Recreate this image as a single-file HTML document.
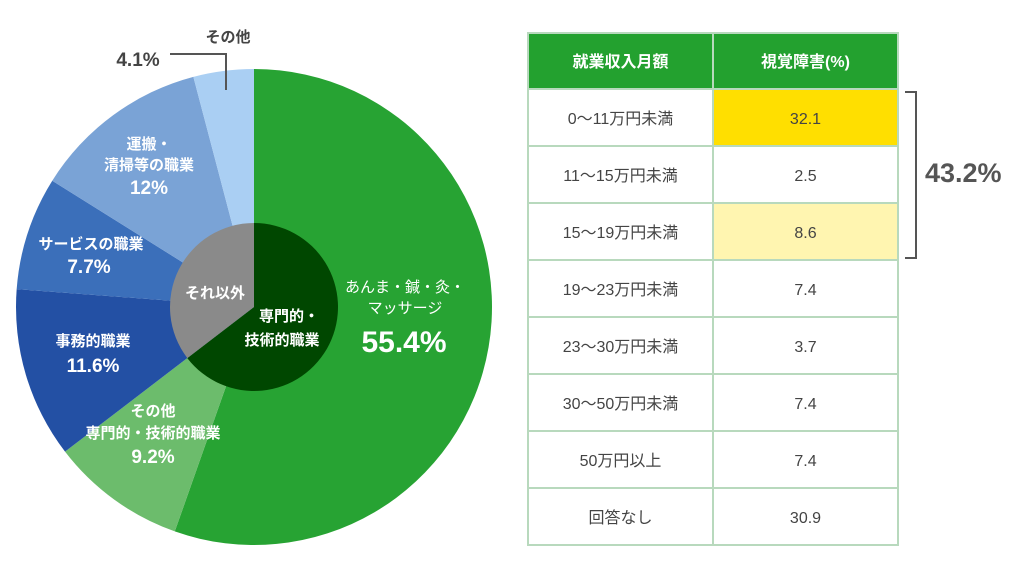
<!DOCTYPE html>
<html><head><meta charset="utf-8">
<style>
html,body{margin:0;padding:0;background:#fff;}
svg{display:block;font-family:"Liberation Sans","Noto Sans CJK JP",sans-serif;}
</style></head>
<body>
<svg id="c" width="1024" height="577" viewBox="0 0 1024 577">
<g id="pie"></g>
<g id="inner"></g>
<g id="labels" fill="#fff" font-weight="bold" text-anchor="middle">
<text x="228" y="42" fill="#444" font-size="15">その他</text>
<text x="138" y="66" fill="#444" font-size="19">4.1%</text>
<polyline points="170,54 226,54 226,90" fill="none" stroke="#555" stroke-width="2"/>
<text x="149" y="149" font-size="15">運搬・</text>
<text x="149" y="170" font-size="15">清掃等の職業</text>
<text x="149" y="194" font-size="19">12%</text>
<text x="91" y="249" font-size="15">サービスの職業</text>
<text x="89" y="273" font-size="19">7.7%</text>
<text x="93" y="346" font-size="15">事務的職業</text>
<text x="93" y="372" font-size="19">11.6%</text>
<text x="153" y="416" font-size="15">その他</text>
<text x="153" y="438" font-size="15">専門的・技術的職業</text>
<text x="153" y="463" font-size="19">9.2%</text>
<text x="405" y="292" font-size="15" font-weight="normal">あんま・鍼・灸・</text>
<text x="405" y="313" font-size="15" font-weight="normal">マッサージ</text>
<text x="404" y="352" font-size="30">55.4%</text>
<text x="215" y="298" font-size="15">それ以外</text>
<text x="289" y="321" font-size="15">専門的・</text>
<text x="282" y="345" font-size="15">技術的職業</text>
</g>
<g id="table"></g>
<polyline points="905,92 916,92 916,258 905,258" fill="none" stroke="#555" stroke-width="2"/>
<text x="925" y="182" font-size="27" font-weight="bold" fill="#555">43.2%</text>
</svg>
<script>
const sliceNames=["あんま・鍼・灸・マッサージ","その他専門的・技術的職業","事務的職業","サービスの職業","運搬・清掃等の職業","その他"];
const sliceValues=[55.4,9.2,11.6,7.7,12,4.1];
const innerNames=["専門的・技術的職業","それ以外"];
const innerValues=[64.6,35.4];
const rowLabels=["0～11万円未満","11～15万円未満","15～19万円未満","19～23万円未満","23～30万円未満","30～50万円未満","50万円以上","回答なし"];
const rowValues=[32.1,2.5,8.6,7.4,3.7,7.4,7.4,30.9];

const NS="http://www.w3.org/2000/svg";
const cx=254,cy=307;
function arcPath(r,a0,a1){
  const p=a=>[cx+r*Math.sin(a),cy-r*Math.cos(a)];
  const [x0,y0]=p(a0),[x1,y1]=p(a1);
  const large=(a1-a0)>Math.PI?1:0;
  return `M${cx},${cy}L${x0},${y0}A${r},${r} 0 ${large} 1 ${x1},${y1}Z`;
}
function drawPie(g,vals,names,r,colors,prefix){
  const tot=vals.reduce((a,b)=>a+b,0);let a=0;
  vals.forEach((v,i)=>{
    const a1=a+v/tot*2*Math.PI;
    const el=document.createElementNS(NS,"path");
    el.setAttribute("d",arcPath(r,a,a1));
    el.setAttribute("fill",colors[i]);
    
    
    const t=document.createElementNS(NS,"title");t.textContent=names[i]+" "+v+"%";el.appendChild(t);
    g.appendChild(el);a=a1;
  });
}
drawPie(document.getElementById("pie"),sliceValues,sliceNames,238,["#27a333","#6cbc6c","#2350a4","#3b6fba","#7aa3d6","#aacff3"],"outer");
drawPie(document.getElementById("inner"),innerValues,innerNames,84,["#004700","#8a8a8a"],"inner");
// move labels to front
document.getElementById("c").appendChild(document.getElementById("labels"));

const tg=document.getElementById("table");
const L=528,M=713,R=898,top0=33,hh=56,rh=57;
function rect(x,y,w,h,fill,name){
  const r=document.createElementNS(NS,"rect");
  r.setAttribute("x",x);r.setAttribute("y",y);r.setAttribute("width",w);r.setAttribute("height",h);
  r.setAttribute("fill",fill);r.setAttribute("stroke","#b8d9bd");r.setAttribute("stroke-width","2");
  
  
  tg.appendChild(r);
}
function text(x,y,s,size,fill,weight,name){
  const t=document.createElementNS(NS,"text");
  t.setAttribute("x",x);t.setAttribute("y",y);t.setAttribute("text-anchor","middle");
  t.setAttribute("font-size",size);t.setAttribute("fill",fill);
  if(weight)t.setAttribute("font-weight",weight);
  t.textContent=s;
  
  
  tg.appendChild(t);
}
rect(L,top0,M-L,hh,"#23a12f","header-cell-income");
rect(M,top0,R-M,hh,"#23a12f","header-cell-visual");
text((L+M)/2,top0+34,"就業収入月額",16,"#fff","bold","header-income");
text((M+R)/2,top0+34,"視覚障害(%)",16,"#fff","bold","header-visual");
rowLabels.forEach((lab,i)=>{
  const y=top0+hh+i*rh;
  const fill=i===0?"#ffdf00":(i===2?"#fff5b0":"#fff");
  rect(L,y,M-L,rh,"#fff","row-label-cell");
  rect(M,y,R-M,rh,fill,"row-value-cell");
  text((L+M)/2,y+35,lab,16,"#444",null,"row-label");
  text((M+R)/2,y+35,rowValues[i].toFixed(1),16,"#444",null,"row-value");
});
</script>
</body></html>
